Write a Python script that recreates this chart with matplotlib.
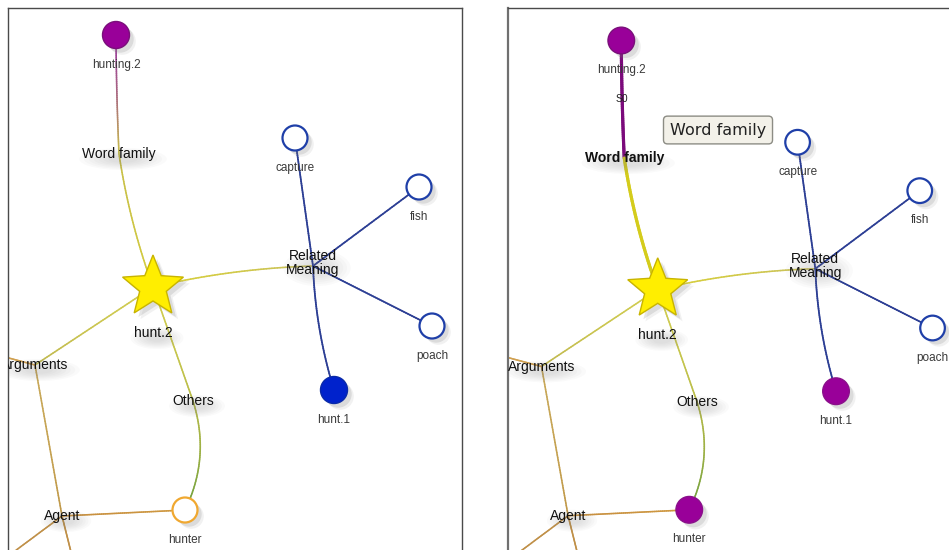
import numpy as np
import matplotlib.pyplot as plt
import matplotlib.patheffects as pe
from matplotlib.patches import Circle, Polygon, Ellipse
from matplotlib.collections import LineCollection

# word nodes (layout in panel pixels)
node_names = ['hunting.2', 'capture', 'fish', 'poach', 'hunt.1', 'hunter', 'hunt.2']
node_x = [116, 295, 419, 432, 334, 185, 153]
node_y = [35, 138, 187, 326, 390, 510, 287]

# relation hubs (edge labels)
hub_names = ['Word family', 'Related\nMeaning', 'Arguments', 'Others', 'Agent']
hub_x = [119, 313, 35, 193, 62]
hub_y = [154, 266, 365, 401, 516]

# graph continues outside the visible window
out_names = ['out_l', 'out_b1', 'out_b2']
out_x = [-40, 78, -24]
out_y = [345, 580, 580]

# edges: source, target, colour at source, colour at target, bend
edges = [
    ('hunting.2', 'Word family', '#9b3d9b', '#c8c048', 0.01),
    ('Word family', 'hunt.2', '#c8c048', '#d6ce3c', 0.05),
    ('hunt.2', 'Related\nMeaning', '#d6ce3c', '#c8c060', -0.05),
    ('Related\nMeaning', 'capture', '#2c3e94', '#2c3e94', 0.0),
    ('Related\nMeaning', 'fish', '#2c3e94', '#2c3e94', 0.0),
    ('Related\nMeaning', 'poach', '#2c3e94', '#2c3e94', 0.0),
    ('Related\nMeaning', 'hunt.1', '#2c3e94', '#2c3e94', 0.065),
    ('hunt.2', 'Arguments', '#d0cc50', '#c0b850', 0.0),
    ('hunt.2', 'Others', '#d0cc50', '#b8bc48', 0.0),
    ('Others', 'hunter', '#b0b848', '#6a9e3c', -0.2),
    ('Arguments', 'Agent', '#c8a858', '#c09848', 0.0),
    ('Arguments', 'out_l', '#d0a050', '#d0a050', 0.0),
    ('Agent', 'hunter', '#c89040', '#d09a40', 0.0),
    ('Agent', 'out_b1', '#c09048', '#c09048', 0.0),
    ('Agent', 'out_b2', '#c09048', '#c09048', 0.0),
]

# node styles for the two snapshots: (face, edge)
left_style = {'hunting.2': ('#990099', '#7a107a'), 'capture': ('white', '#1f3fa8'),
              'fish': ('white', '#1f3fa8'), 'poach': ('white', '#1f3fa8'),
              'hunt.1': ('#0022cc', '#0a2aa8'), 'hunter': ('white', '#f0a830')}
right_style = dict(left_style)
right_style['hunt.1'] = ('#990099', '#8a108a')
right_style['hunter'] = ('#990099', '#8a108a')

pos = {}
for names, xs, ys in [(node_names, node_x, node_y), (hub_names, hub_x, hub_y),
                      (out_names, out_x, out_y)]:
    for n, x, y in zip(names, xs, ys):
        pos[n] = np.array([x, y], dtype=float)

shadow = [pe.SimplePatchShadow(offset=(4.5, -4.5), shadow_rgbFace='#777777', alpha=0.1),
          pe.SimplePatchShadow(offset=(3, -3), shadow_rgbFace='#777777', alpha=0.18),
          pe.Normal()]


def curve(p0, p2, bend, n=60):
    d = p2 - p0
    L = np.hypot(*d)
    perp = np.array([-d[1], d[0]]) / L
    c = (p0 + p2) / 2 + bend * L * perp
    t = np.linspace(0, 1, n)[:, None]
    return (1 - t) ** 2 * p0 + 2 * (1 - t) * t * c + t ** 2 * p2


def mix(c0, c1, n):
    a = np.array(plt.matplotlib.colors.to_rgb(c0))
    b = np.array(plt.matplotlib.colors.to_rgb(c1))
    t = np.linspace(0, 1, n)[:, None] ** 1.6
    return (1 - t) * a + t * b


def haze(ax, txt):
    # soft grey glow under a label, like the blurred text shadow
    bb = txt.get_window_extent(fig.canvas.get_renderer())
    x, y = txt.get_position()
    w, h = bb.width / ax.bbox.width * np.diff(ax.get_xlim())[0], bb.height
    for k in range(7):
        s = 1 - k * 0.11
        ax.add_patch(Ellipse((x + 4, y + 5), (w + 14) * s, (h + 8) * s,
                             facecolor='#7a7a7a', edgecolor='none', alpha=0.035,
                             zorder=4, clip_on=True))


def draw_panel(ax, style, highlight=False):
    for src, dst, c0, c1, bend in edges:
        pts = curve(pos[src], pos[dst], bend)
        lw = 1.15 if c0 != '#2c3e94' else 1.25
        if highlight and src == 'hunting.2':
            c0 = c1 = '#7b0a7b'
            lw = 2.3
        if highlight and src == 'Word family':
            c0 = c1 = '#d4cc1c'
            lw = 2.3
        segs = np.stack([pts[:-1], pts[1:]], axis=1)
        ax.add_collection(LineCollection(segs, colors=mix(c0, c1, len(segs)),
                                         linewidths=lw, zorder=1, capstyle='round'))

    for n in node_names[:-1]:
        fc, ec = style[n]
        filled = fc != 'white'
        r = 13.5 if filled else 12.5
        circ = Circle(pos[n], r, facecolor=fc, edgecolor=ec,
                      linewidth=1.0 if filled else 1.6, zorder=3)
        circ.set_path_effects(shadow)
        ax.add_patch(circ)
        ax.text(pos[n][0], pos[n][1] + 30, n, ha='center', va='center', fontsize=8.5,
                color='#3a3a3a', family='Liberation Sans', zorder=5, clip_on=True)

    # star node
    cx, cy = pos['hunt.2']
    ang = np.deg2rad(-90 + 36 * np.arange(10))
    rad = np.where(np.arange(10) % 2 == 0, 32, 14)
    star = Polygon(np.column_stack([cx + rad * np.cos(ang), cy + rad * np.sin(ang)]),
                   closed=True, facecolor='#ffee00', edgecolor='#c8b400',
                   linewidth=1.0, zorder=3)
    star.set_path_effects(shadow)
    ax.add_patch(star)
    t = ax.text(cx, cy + 46, 'hunt.2', ha='center', va='center', fontsize=10,
                color='#111111', family='Liberation Sans', zorder=5)
    haze(ax, t)

    for n in hub_names:
        bold = highlight and n == 'Word family'
        t = ax.text(pos[n][0], pos[n][1] - (3 if '\n' in n else 0), n, ha='center',
                    va='center', fontsize=10, color='#111111', linespacing=1.0,
                    family='Liberation Sans', fontweight='bold' if bold else 'normal',
                    zorder=5, clip_on=True)
        haze(ax, t)


fig = plt.figure(figsize=(9.49, 5.5), dpi=100)
fig.patch.set_facecolor('white')

ax1 = fig.add_axes([8 / 949, 0, 454 / 949, 542 / 550])
ax1.set_xlim(8, 462)
ax1.set_ylim(550, 8)
draw_panel(ax1, left_style)
for s in ['left', 'top', 'right']:
    ax1.spines[s].set_color('#4a4a4a')
    ax1.spines[s].set_linewidth(1.0)
ax1.spines['bottom'].set_visible(False)

ax2 = fig.add_axes([508 / 949, 0, 441 / 949, 542 / 550])
ax2.set_xlim(1.0, 448.7)
ax2.set_ylim(550.7, 2.1)
draw_panel(ax2, right_style, highlight=True)
ax2.text(116.8, 94.2, 'S0', ha='center', va='center', fontsize=7.5, color='#222222',
         family='Liberation Sans', zorder=5)
ax2.text(214.2, 125.6, 'Word family', ha='center', va='center', fontsize=11.5,
         color='#222222', family='DejaVu Sans', zorder=6,
         bbox=dict(boxstyle='round,pad=0.4,rounding_size=0.25', fc='#f3f1e9',
                   ec='#8c8c84', lw=1.0))
ax2.spines['left'].set_color('#707070')
ax2.spines['left'].set_linewidth(1.6)
ax2.spines['top'].set_color('#4a4a4a')
ax2.spines['top'].set_linewidth(1.0)
ax2.spines['right'].set_visible(False)
ax2.spines['bottom'].set_visible(False)

for ax in (ax1, ax2):
    ax.set_xticks([])
    ax.set_yticks([])
    ax.set_facecolor('white')

fig.savefig('out.png', dpi=100)
